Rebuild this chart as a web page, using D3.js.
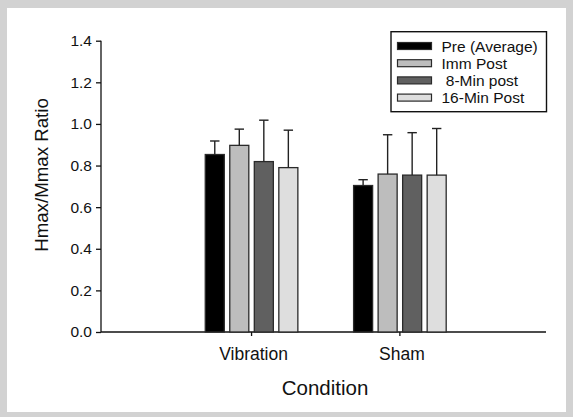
<!DOCTYPE html>
<html><head><meta charset="utf-8">
<script src="https://cdn.jsdelivr.net/npm/d3@7"></script>
<style>
html,body{margin:0;padding:0;background:#d2d2d2;}
svg{display:block;font-family:"Liberation Sans",Arial,sans-serif;}
</style></head>
<body>
<svg id="chart" width="573" height="417"></svg>
<script>
const categories = ["Vibration", "Sham"];
const seriesNames = ["Pre (Average)", "Imm Post", " 8-Min post", "16-Min Post"];
const seriesColors = ["#000000", "#bdbdbd", "#606060", "#dedede"];
const vibrationMeans = [0.853, 0.897, 0.819, 0.790];
const vibrationErrors = [0.065, 0.078, 0.199, 0.180];
const shamMeans = [0.704, 0.759, 0.754, 0.754];
const shamErrors = [0.028, 0.189, 0.204, 0.224];
const yTicks = [0.0, 0.2, 0.4, 0.6, 0.8, 1.0, 1.2, 1.4];

(function () {
const means = [vibrationMeans, shamMeans];
const errors = [vibrationErrors, shamErrors];
const data = [];
categories.forEach((c, ci) => seriesNames.forEach((s, si) => {
  data.push({cat: c, series: si, value: means[ci][si], err: errors[ci][si]});
}));

const svg = d3.select("#chart");
svg.append("rect").attr("x", 7).attr("y", 8).attr("width", 559).attr("height", 404).attr("fill", "#fff");

const mLeft = 101, mRight = 546, mTop = 40.7, mBottom = 332;
const y = d3.scaleLinear().domain([0, 1.4]).range([mBottom, mTop]);
const x0 = d3.scaleBand().domain(categories).range([mLeft, mRight]).paddingInner(0).paddingOuter(0.5).align(0.515);
const x1 = d3.scaleBand().domain(d3.range(seriesNames.length)).range([-46.3, 46.3]).paddingInner(0.224).paddingOuter(0);

// Y axis
const yAxis = svg.append("g").attr("transform", `translate(${mLeft},0)`)
  .call(d3.axisLeft(y).tickValues(yTicks).tickFormat(d3.format(".1f")).tickSize(5).tickPadding(4));
yAxis.select(".domain").attr("d", `M0,${mTop}V${mBottom}`);
yAxis.selectAll("path,line").attr("stroke", "#111").attr("stroke-width", 1.3);
yAxis.selectAll("text").attr("font-size", 15.5).attr("fill", "#111").attr("font-family", "Liberation Sans, Arial, sans-serif");

// X axis
const xAxis = svg.append("g").attr("transform", `translate(0,${mBottom})`)
  .call(d3.axisBottom(x0).tickSize(4).tickPadding(12));
xAxis.select(".domain").attr("d", `M${mLeft},0H${mRight}`);
xAxis.selectAll("path,line").attr("stroke", "#111").attr("stroke-width", 1.3);
xAxis.selectAll("text").attr("font-size", 17.5).attr("fill", "#111").attr("font-family", "Liberation Sans, Arial, sans-serif").attr("dx", 2);

// Bars
const cx = d => x0(d.cat) + x0.bandwidth() / 2 + x1(d.series);
svg.append("g").selectAll("rect").data(data).join("rect")
  .attr("x", d => cx(d))
  .attr("y", d => y(d.value))
  .attr("width", x1.bandwidth())
  .attr("height", d => y(0) - y(d.value))
  .attr("fill", d => seriesColors[d.series])
  .attr("stroke", "#2a2a2a").attr("stroke-width", 1.3);

// Error bars (upper only)
const eb = svg.append("g").attr("stroke", "#222").attr("stroke-width", 1.4);
eb.selectAll("line.v").data(data).join("line").attr("class", "v")
  .attr("x1", d => cx(d) + x1.bandwidth() / 2).attr("x2", d => cx(d) + x1.bandwidth() / 2)
  .attr("y1", d => y(d.value)).attr("y2", d => y(d.value + d.err));
eb.selectAll("line.c").data(data).join("line").attr("class", "c")
  .attr("x1", d => cx(d) + x1.bandwidth() / 2 - 4.7).attr("x2", d => cx(d) + x1.bandwidth() / 2 + 4.7)
  .attr("y1", d => y(d.value + d.err)).attr("y2", d => y(d.value + d.err));

// Axis titles
svg.append("text").attr("x", 325).attr("y", 395).attr("text-anchor", "middle")
  .attr("font-size", 20.5).attr("fill", "#111").text("Condition");
svg.append("text").attr("transform", "translate(48,175) rotate(-90)").attr("text-anchor", "middle")
  .attr("font-size", 18.7).attr("fill", "#111").text("Hmax/Mmax Ratio");

// Legend
const lg = svg.append("g");
lg.append("rect").attr("x", 391).attr("y", 31.7).attr("width", 155.5).attr("height", 80)
  .attr("fill", "#fff").attr("stroke", "#111").attr("stroke-width", 1.4);
const rowY = [46, 63.2, 80.4, 97.6];
seriesNames.forEach((s, i) => {
  lg.append("rect").attr("x", 397.5).attr("y", rowY[i] - 3.5).attr("width", 34).attr("height", 7)
    .attr("fill", seriesColors[i]).attr("stroke", "#2a2a2a").attr("stroke-width", 1.2);
  lg.append("text").attr("x", 441.5).attr("y", rowY[i] + 5.5).attr("font-size", 15.5)
    .attr("fill", "#111").style("white-space", "pre").text(s);
});
})();
</script>
</body></html>
